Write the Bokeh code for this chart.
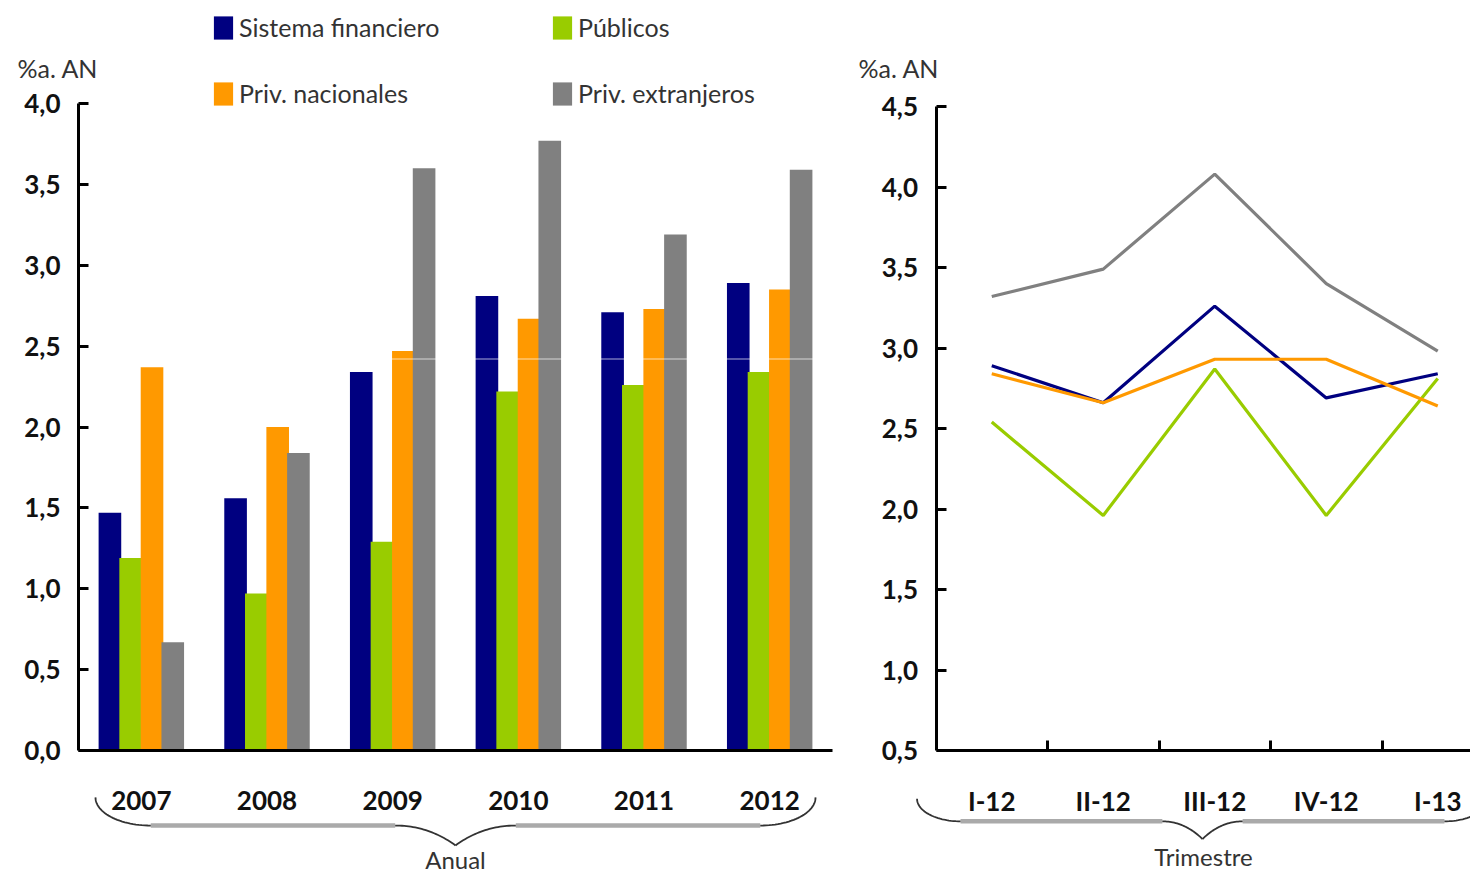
import numpy as np
from bokeh.plotting import figure
from bokeh.models import (Range1d, FixedTicker, CustomJSTickFormatter, Legend,
                          LegendItem, Label, Span)
from bokeh.layouts import row
from bokeh.embed import file_html
from bokeh.resources import INLINE

# ---------------- data ----------------
years = ["2007", "2008", "2009", "2010", "2011", "2012"]
sf_annual = [1.47, 1.56, 2.34, 2.81, 2.71, 2.89]
pub_annual = [1.19, 0.97, 1.29, 2.22, 2.26, 2.34]
pn_annual = [2.37, 2.00, 2.47, 2.67, 2.73, 2.85]
pe_annual = [0.67, 1.84, 3.60, 3.77, 3.19, 3.59]

quarters = ["I-12", "II-12", "III-12", "IV-12", "I-13"]
sf_q = [2.89, 2.66, 3.26, 2.69, 2.84]
pub_q = [2.54, 1.96, 2.87, 1.96, 2.81]
pn_q = [2.84, 2.66, 2.93, 2.93, 2.64]
pe_q = [3.32, 3.49, 4.08, 3.40, 2.98]

series_names = ["Sistema financiero", "Públicos", "Priv. nacionales", "Priv. extranjeros"]
y_ticks_left = [0, 0.5, 1, 1.5, 2, 2.5, 3, 3.5, 4]
y_ticks_right = [0.5, 1, 1.5, 2, 2.5, 3, 3.5, 4, 4.5]

NAVY, GREEN, ORANGE, GREY = "#000080", "#99cc00", "#ff9900", "#808080"
COLORS = [NAVY, GREEN, ORANGE, GREY]
FONT = "Lato"
TXT = "#333333"


def brace(x0, x1, xm, y_tip, y_band, y_point, arc_w, mid_w, n=30):
    t = np.linspace(0, np.pi / 2, n)
    ly = y_band + (y_tip - y_band) * (1 - np.sin(t))
    lx = x0 + arc_w * (1 - np.cos(t))
    rx = x1 - arc_w * (1 - np.cos(t))
    s = np.linspace(0, 1, n)
    p0 = np.array([xm - mid_w, y_band]); c = np.array([xm - mid_w * 0.45, y_band]); p1 = np.array([xm, y_point])
    mid = ((1 - s) ** 2)[:, None] * p0 + (2 * (1 - s) * s)[:, None] * c + (s ** 2)[:, None] * p1
    mlx, mly = mid[:, 0], mid[:, 1]
    mrx = 2 * xm - mlx
    curves_x = [list(lx), list(mlx), list(mrx), list(rx)]
    curves_y = [list(ly), list(mly), list(mly), list(ly)]
    bands_x = [[x0 + arc_w, xm - mid_w], [xm + mid_w, x1 - arc_w]]
    bands_y = [[y_band, y_band], [y_band, y_band]]
    return curves_x, curves_y, bands_x, bands_y


def style_common(p):
    p.outline_line_color = None
    p.xgrid.visible = False
    p.ygrid.visible = False
    p.background_fill_color = "white"
    p.border_fill_color = "white"


def style_axis(ax):
    ax.axis_line_width = 3
    ax.axis_line_color = "black"
    ax.major_label_text_font = FONT
    ax.major_label_text_font_style = "bold"
    ax.major_label_text_font_size = "26px"
    ax.major_label_text_color = "#111111"
    ax.axis_label_text_font = FONT
    ax.axis_label_text_font_style = "normal"
    ax.axis_label_text_font_size = "24px"
    ax.axis_label_text_color = TXT


H = 875
# ---------------- left: annual bars ----------------
WL = 840
uL = 125.67          # px per category
x0L = -78 / uL
pL = figure(width=WL, height=H, output_backend="svg", toolbar_location=None,
            x_range=Range1d(x0L, x0L + WL / uL), y_range=Range1d(-0.7728, 4.6368),
            min_border_left=0, min_border_right=0, min_border_top=0, min_border_bottom=0)
style_common(pL)

xs_y = np.arange(len(years)) + 0.5
offsets = [-0.25, -0.085, 0.085, 0.25]
vals = [sf_annual, pub_annual, pn_annual, pe_annual]
bar_r = []
for vals_i, off, col in zip(vals, offsets, COLORS):
    r = pL.vbar(x=xs_y + off, top=vals_i, bottom=0, width=0.18, fill_color=col, line_color=None)
    bar_r.append(r)

pL.add_layout(Span(location=2.42, dimension="width", line_color="white", line_alpha=0.45,
                   line_width=1.5, level="glyph"))

cx, cy, bx, by = brace(0.135, 5.865, 3.0, -0.29, -0.464, -0.587, 0.44, 0.48)
pL.multi_line(xs=bx, ys=by, line_color="#aaaaaa", line_width=4.5)
pL.multi_line(xs=cx, ys=cy, line_color="#333333", line_width=1.8)

yl = pL.yaxis[0]
style_axis(yl)
yl.fixed_location = 0
yl.bounds = (0, 4)
yl.ticker = FixedTicker(ticks=y_ticks_left, minor_ticks=[])
yl.formatter = CustomJSTickFormatter(code="return tick.toFixed(1).replace('.', ',')")
yl.major_tick_in = 10
yl.major_tick_out = 0
yl.major_tick_line_width = 3
yl.minor_tick_line_color = None
yl.major_label_standoff = 18

xl = pL.xaxis[0]
style_axis(xl)
xl.fixed_location = 0
xl.bounds = (0, len(years))
xl.ticker = FixedTicker(ticks=list(xs_y), minor_ticks=[])
xl.formatter = CustomJSTickFormatter(args=dict(labels=years),
                                     code="return labels[Math.round(tick - 0.5)] || ''")
xl.major_tick_line_color = None
xl.minor_tick_line_color = None
xl.major_label_standoff = 34
xl.axis_label = "Anual"
xl.axis_label_standoff = 32

legA = Legend(items=[LegendItem(label=series_names[0], renderers=[bar_r[0]]),
                     LegendItem(label=series_names[2], renderers=[bar_r[2]])],
              location=(211, 767))
legB = Legend(items=[LegendItem(label=series_names[1], renderers=[bar_r[1]]),
                     LegendItem(label=series_names[3], renderers=[bar_r[3]])],
              location=(550, 767))
for lg in (legA, legB):
    lg.orientation = "vertical"
    lg.glyph_width = 24
    lg.glyph_height = 29
    lg.label_height = 29
    lg.label_standoff = 4
    lg.spacing = 36
    lg.padding = 0
    lg.margin = 0
    lg.border_line_color = None
    lg.background_fill_alpha = 0
    lg.label_text_font = FONT
    lg.label_text_font_size = "25px"
    lg.label_text_color = TXT
    pL.add_layout(lg)

pL.add_layout(Label(x=17, y=823, x_units="screen", y_units="screen", text="%a. AN",
                    text_font=FONT, text_font_size="25px", text_color=TXT,
                    text_baseline="top", text_align="left"))

# ---------------- right: quarterly lines ----------------
WR = 630
uR = 111.5
x0R = (840 - 935.5) / uR
pR = figure(width=WR, height=H, output_backend="svg", toolbar_location=None,
            x_range=Range1d(x0R, x0R + WR / uR), y_range=Range1d(-0.2764, 5.1584),
            min_border_left=0, min_border_right=0, min_border_top=0, min_border_bottom=0)
style_common(pR)

xs_q = np.arange(len(quarters)) + 0.5
for vals_i, col in zip([sf_q, pub_q, pn_q, pe_q], COLORS):
    pR.line(x=xs_q, y=vals_i, line_color=col, line_width=3.2)

cx, cy, bx, by = brace(-0.17, 4.95, 2.39, 0.20, 0.06, -0.05, 0.39, 0.36)
pR.multi_line(xs=bx, ys=by, line_color="#aaaaaa", line_width=4.5)
pR.multi_line(xs=cx, ys=cy, line_color="#333333", line_width=1.8)

yr = pR.yaxis[0]
style_axis(yr)
yr.fixed_location = 0
yr.bounds = (0.5, 4.5)
yr.ticker = FixedTicker(ticks=y_ticks_right, minor_ticks=[])
yr.formatter = CustomJSTickFormatter(code="return tick.toFixed(1).replace('.', ',')")
yr.major_tick_in = 10
yr.major_tick_out = 0
yr.major_tick_line_width = 3
yr.minor_tick_line_color = None
yr.major_label_standoff = 18

xr = pR.xaxis[0]
style_axis(xr)
xr.fixed_location = 0.5
xr.bounds = (0, x0R + WR / uR)
xr.ticker = FixedTicker(ticks=list(xs_q), minor_ticks=[1, 2, 3, 4])
xr.formatter = CustomJSTickFormatter(args=dict(labels=quarters),
                                     code="return labels[Math.round(tick - 0.5)] || ''")
xr.major_tick_line_color = None
xr.minor_tick_in = 10
xr.minor_tick_out = 0
xr.minor_tick_line_width = 3
xr.minor_tick_line_color = "black"
xr.major_label_standoff = 28
xr.axis_label = "Trimestre"
xr.axis_label_standoff = 22

pR.add_layout(Label(x=18, y=823, x_units="screen", y_units="screen", text="%a. AN",
                    text_font=FONT, text_font_size="25px", text_color=TXT,
                    text_baseline="top", text_align="left"))

layout = row(pL, pR, spacing=0)
open("out.html", "w").write(file_html(layout, INLINE))
